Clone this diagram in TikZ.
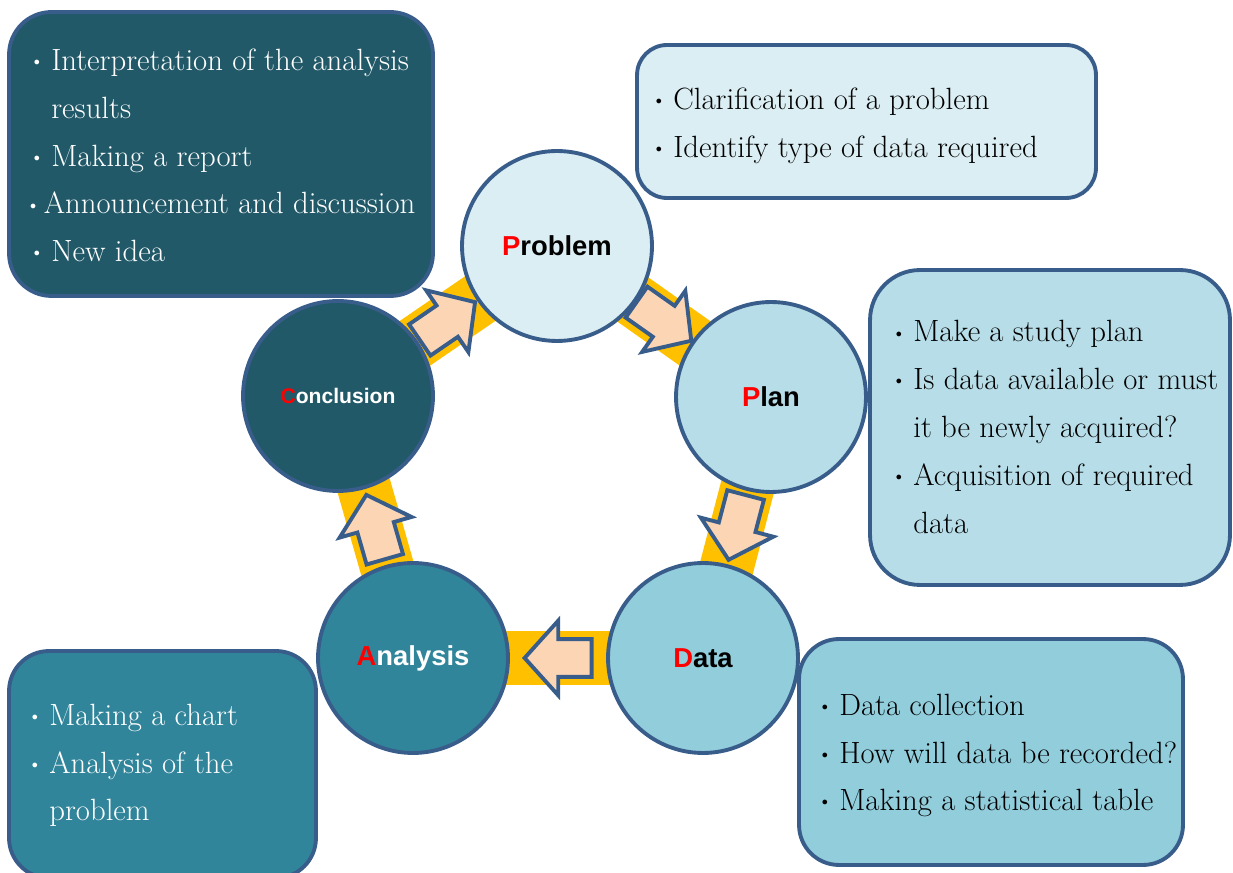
\documentclass[tikz,border=0pt]{standalone}
\usepackage{fontspec}
\usepackage{graphicx}
\newfontfamily\stagefont{Liberation Sans}
\definecolor{cycblue}{RGB}{56,93,138}
\definecolor{cycyellow}{RGB}{255,192,0}
\definecolor{cycpeach}{RGB}{252,213,181}
\definecolor{probfill}{RGB}{219,238,243}
\definecolor{planfill}{RGB}{183,221,232}
\definecolor{datafill}{RGB}{146,205,220}
\definecolor{analfill}{RGB}{49,133,155}
\definecolor{conclfill}{RGB}{33,89,104}
\usetikzlibrary{shapes.arrows,calc,backgrounds}
\newcommand{\itm}[1][0.58cm]{\makebox[#1][c]{$\vcenter{\hbox{\scalebox{0.4}{$\bullet$}}}$}}

\begin{document}
\begin{tikzpicture}[
  x=0.02cm, y=0.02cm,
  stage/.style={circle,draw=cycblue,line width=2.2pt,minimum size=3.8cm,inner sep=0pt,
                font=\stagefont\bfseries\fontsize{15.6pt}{18pt}\selectfont},
  infobox/.style={draw=cycblue,line width=2.2pt,inner sep=0pt},
  infotext/.style={anchor=north west,align=left,inner sep=0pt,
                   font=\fontsize{17.5pt}{27.2pt}\selectfont},
  band/.style={line width=1.08cm,cycyellow},
  blockarr/.style={single arrow,draw=cycblue,fill=cycpeach,line width=2.2pt,
                   minimum height=1.34cm,inner xsep=0pt,inner ysep=0.34cm,anchor=tip,
                   single arrow head extend=0.37cm,single arrow tip angle=96},
]
  \useasboundingbox (0,0) rectangle (1233,872);

  % info boxes
  \node[infobox,fill=conclfill,rounded corners=0.85cm,minimum width=8.48cm,minimum height=5.68cm]
    (cbox) at (221,718) {};
  \node[infobox,fill=probfill,rounded corners=0.6cm,minimum width=9.18cm,minimum height=3.06cm]
    (pbox) at (866.5,750.5) {};
  \node[infobox,fill=planfill,rounded corners=1cm,minimum width=7.2cm,minimum height=6.3cm]
    (lbox) at (1050,444.5) {};
  \node[infobox,fill=datafill,rounded corners=0.8cm,minimum width=7.68cm,minimum height=4.52cm]
    (dbox) at (991,120) {};
  \node[infobox,fill=analfill,rounded corners=0.8cm,minimum width=6.14cm,minimum height=4.54cm]
    (abox) at (162.5,107.5) {};

  % cycle stages
  \node[stage,fill=probfill]  (prob)  at (557,626) {\textcolor{red}{P}roblem};
  \node[stage,fill=planfill]  (plan)  at (771,475) {\textcolor{red}{P}lan};
  \node[stage,fill=datafill]  (data)  at (703,214) {\textcolor{red}{D}ata};
  \node[stage,fill=analfill,text=white] (anal) at (413,214) {\textcolor{red}{A}nalysis};
  \node[stage,fill=conclfill,text=white,font=\stagefont\bfseries\fontsize{12pt}{14pt}\selectfont]
    (concl) at (338,476) {\textcolor{red}{C}onclusion};

  % yellow ring behind the stages
  \begin{scope}[on background layer]
    \draw[band] (prob.center) -- (plan.center) -- (data.center) -- (anal.center)
      -- (concl.center) -- cycle;
  \end{scope}

  % block arrows, tip placed past the midpoint of each gap
  \coordinate (mpl) at ($(prob)!0.5!(plan)$);
  \coordinate (mld) at ($(plan)!0.5!(data)$);
  \coordinate (mda) at ($(data)!0.5!(anal)$);
  \coordinate (mac) at ($(anal)!0.5!(concl)$);
  \coordinate (mcp) at ($(concl)!0.5!(prob)$);
  \node[blockarr,rotate=-35.2]  (pl) at ($(mpl)!0.72cm!(plan)$)  {};
  \node[blockarr,rotate=-104.7] (ld) at ($(mld)!0.72cm!(data)$)  {};
  \node[blockarr,rotate=180]    (da) at ($(mda)!0.72cm!(anal)$)  {};
  \node[blockarr,rotate=106]    (ac) at ($(mac)!0.72cm!(concl)$) {};
  \node[blockarr,rotate=34.4]   (cp) at ($(mcp)!0.72cm!(prob)$)  {};

  % box texts
  \node[infotext,text=white] (ctext) at (22,823.4) {%
    \itm Interpretation of the analysis\\
    \hspace*{0.58cm}results\\
    \itm Making a report\\
    \itm[0.43cm]Announcement and discussion\\
    \itm New idea};
  \node[infotext] (ptext) at (644,784.4) {%
    \itm Clarification of a problem\\
    \itm Identify type of data required};
  \node[infotext] (ltext) at (884,551.7) {%
    \itm Make a study plan\\
    \itm Is data available or must\\
    \hspace*{0.58cm}it be newly acquired?\\
    \itm Acquisition of required\\
    \hspace*{0.58cm}data};
  \node[infotext] (dtext) at (810,178.4) {%
    \itm Data collection\\
    \itm How will data be recorded?\\
    \itm Making a statistical table};
  \node[infotext,text=white] (atext) at (20,168.4) {%
    \itm Making a chart\\
    \itm Analysis of the\\
    \hspace*{0.58cm}problem};
\end{tikzpicture}
\end{document}
